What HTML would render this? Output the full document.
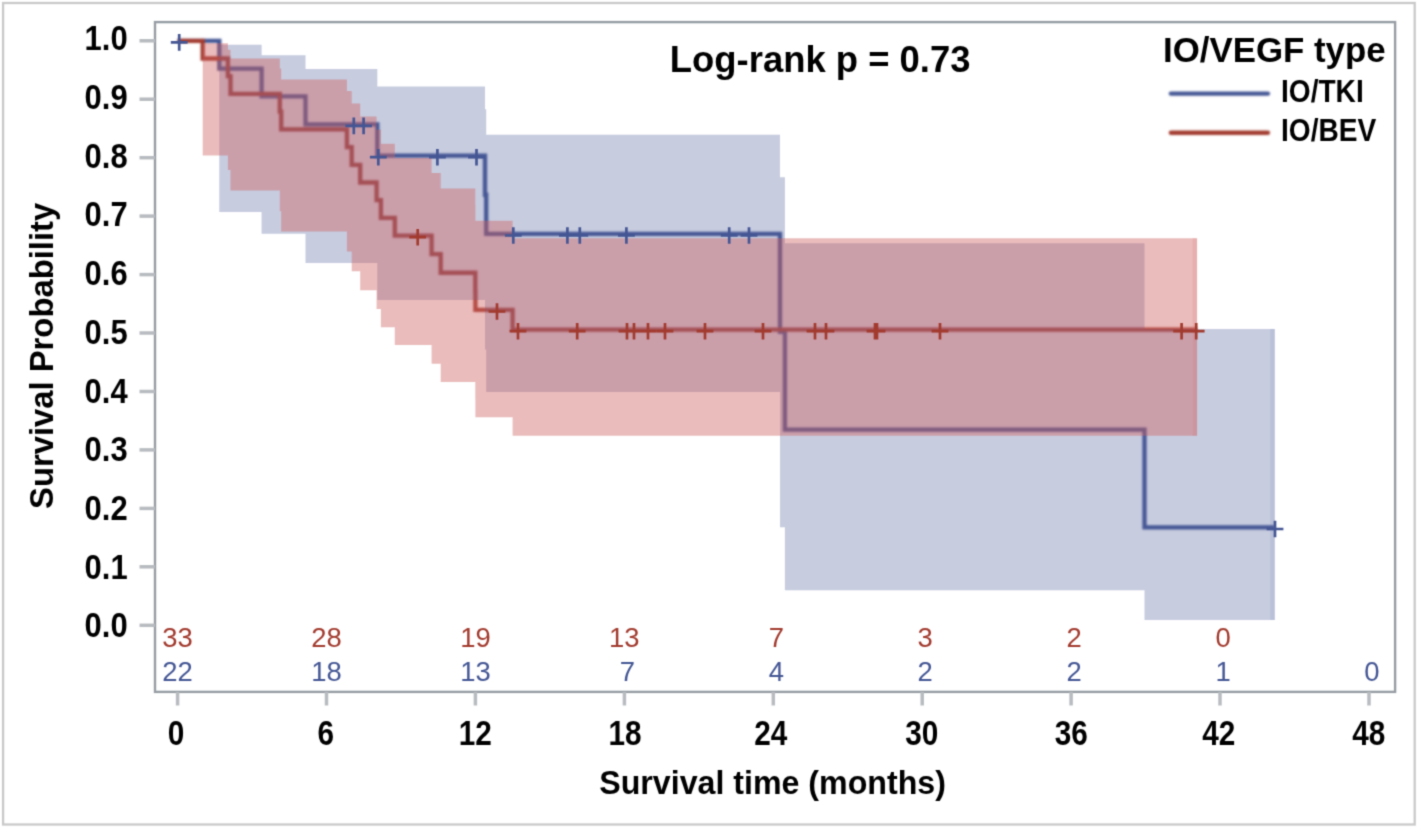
<!DOCTYPE html>
<html><head><meta charset="utf-8"><style>
html,body{margin:0;padding:0;background:#fff;}
svg{display:block;}
text{font-family:"Liberation Sans",sans-serif;}
</style></head><body>
<svg width="1418" height="828" viewBox="0 0 1418 828">
<defs><filter id="bl" filterUnits="userSpaceOnUse" x="0" y="0" width="1418" height="828" color-interpolation-filters="sRGB"><feConvolveMatrix order="3" kernelMatrix="1 4 1 4 16 4 1 4 1" divisor="36" edgeMode="duplicate"/></filter><filter id="bl2" filterUnits="userSpaceOnUse" x="0" y="0" width="1418" height="828" color-interpolation-filters="sRGB"><feConvolveMatrix order="5" kernelMatrix="18 82 135 82 18 82 368 607 368 82 135 607 1000 607 135 82 368 607 368 82 18 82 135 82 18" divisor="6168" edgeMode="none"/></filter></defs>
<rect x="0" y="0" width="1418" height="828" fill="#fff"/>
<g filter="url(#bl)">
<rect x="3.1" y="3" width="1411.6" height="821.5" fill="none" stroke="#c9c9c9" stroke-width="2.3"/>
<g filter="url(#bl2)">
<path d="M177.60,40.80 H219.30 V68.63 H261.60 V96.47 H305.50 V124.30 H377.30 V155.61 H485.00 V194.75 H486.20 V233.89 H780.00 V331.75 H784.90 V429.60 H1144.50 V527.45 H1274.80" stroke="#445694" stroke-width="4.3" fill="none"/>
<path d="M177.60,40.80 H202.70 V58.51 H227.90 V76.22 H230.50 V93.94 H279.80 V111.65 H281.20 V129.36 H346.90 V147.07 H351.70 V164.78 H360.20 V182.50 H376.60 V200.21 H380.90 V217.92 H394.80 V235.63 H431.60 V254.19 H440.70 V272.74 H475.30 V291.30 H475.40 V309.86 H512.60 V329.57 H1197.10" stroke="#A23A2E" stroke-width="4.3" fill="none"/>
</g>
<path d="M219.30,44.80 V44.80 H261.60 V55.24 H305.50 V69.12 H377.30 V86.59 H485.00 V109.15 H486.20 V134.65 H780.00 V177.13 H784.90 V243.15 H1144.50 V328.91 H1274.80 V620.01 H1144.50 V590.37 H784.90 V527.31 H780.00 V392.07 H486.20 V349.61 H485.00 V300.06 H377.30 V263.08 H305.50 V233.66 H261.60 V211.94 H219.30 Z" fill="#445694" fill-opacity="0.3"/>
<path d="M202.70,43.33 V43.33 H227.90 V49.87 H230.50 V58.49 H279.80 V68.45 H281.20 V79.40 H346.90 V91.12 H351.70 V103.49 H360.20 V116.41 H376.60 V129.82 H380.90 V143.67 H394.80 V157.93 H431.60 V173.06 H440.70 V188.60 H475.30 V204.53 H475.40 V220.83 H512.60 V238.24 H1197.10 V435.77 H512.60 V417.29 H475.40 V399.89 H475.30 V382.06 H440.70 V363.80 H431.60 V345.07 H394.80 V327.17 H380.90 V308.90 H376.60 V290.22 H360.20 V271.13 H351.70 V251.59 H346.90 V231.59 H281.20 V211.14 H279.80 V190.40 H230.50 V170.11 H227.90 V155.51 H202.70 Z" fill="rgb(207,96,96)" fill-opacity="0.42"/>
<rect x="1270.30" y="328.91" width="4.5" height="291.10" fill="#445694" fill-opacity="0.105"/>
<rect x="1192.60" y="238.24" width="4.5" height="197.54" fill="rgb(207,96,96)" fill-opacity="0.147"/>
<path d="M170.8,42.4h16.8M179.2,34.1v16.6M345.4,125.9h16.8M353.8,117.6v16.6M355.2,125.9h16.8M363.6,117.6v16.6M369.9,157.2h16.8M378.3,148.9v16.6M429.0,157.2h16.8M437.4,148.9v16.6M468.1,157.2h16.8M476.5,148.9v16.6M504.9,235.5h16.8M513.3,227.2v16.6M559.0,235.5h16.8M567.4,227.2v16.6M571.4,235.5h16.8M579.8,227.2v16.6M618.0,235.5h16.8M626.4,227.2v16.6M720.8,235.5h16.8M729.2,227.2v16.6M740.6,235.5h16.8M749.0,227.2v16.6M1266.6,529.0h16.8M1275.0,520.7v16.6" stroke="#445694" stroke-width="2.7" fill="none"/>
<path d="M409.3,237.2h16.8M417.7,228.9v16.6M488.6,311.5h16.8M497.0,303.2v16.6M509.6,331.2h16.8M518.0,322.9v16.6M568.8,331.2h16.8M577.2,322.9v16.6M618.6,331.2h16.8M627.0,322.9v16.6M625.6,331.2h16.8M634.0,322.9v16.6M639.6,331.2h16.8M648.0,322.9v16.6M656.6,331.2h16.8M665.0,322.9v16.6M696.6,331.2h16.8M705.0,322.9v16.6M754.6,331.2h16.8M763.0,322.9v16.6M806.6,331.2h16.8M815.0,322.9v16.6M817.6,331.2h16.8M826.0,322.9v16.6M866.6,331.2h16.8M875.0,322.9v16.6M868.6,331.2h16.8M877.0,322.9v16.6M931.6,331.2h16.8M940.0,322.9v16.6M1173.2,331.2h16.8M1181.6,322.9v16.6M1187.8,331.2h16.8M1196.2,322.9v16.6" stroke="#A23A2E" stroke-width="2.7" fill="none"/>
<rect x="155" y="22.1" width="1240.1" height="669.8" fill="none" stroke="#979ea4" stroke-width="2.4"/>
<line x1="139.5" y1="625.3" x2="155" y2="625.3" stroke="#b8bcc0" stroke-width="3.5"/><text transform="translate(127.60,637.40) scale(0.8840,1)" font-size="35" font-weight="bold" text-anchor="end" fill="#000">0.0</text><line x1="139.5" y1="566.8" x2="155" y2="566.8" stroke="#b8bcc0" stroke-width="3.5"/><text transform="translate(127.60,578.68) scale(0.8840,1)" font-size="35" font-weight="bold" text-anchor="end" fill="#000">0.1</text><line x1="139.5" y1="508.4" x2="155" y2="508.4" stroke="#b8bcc0" stroke-width="3.5"/><text transform="translate(127.60,519.96) scale(0.8840,1)" font-size="35" font-weight="bold" text-anchor="end" fill="#000">0.2</text><line x1="139.5" y1="449.9" x2="155" y2="449.9" stroke="#b8bcc0" stroke-width="3.5"/><text transform="translate(127.60,461.24) scale(0.8840,1)" font-size="35" font-weight="bold" text-anchor="end" fill="#000">0.3</text><line x1="139.5" y1="391.5" x2="155" y2="391.5" stroke="#b8bcc0" stroke-width="3.5"/><text transform="translate(127.60,402.52) scale(0.8840,1)" font-size="35" font-weight="bold" text-anchor="end" fill="#000">0.4</text><line x1="139.5" y1="333.0" x2="155" y2="333.0" stroke="#b8bcc0" stroke-width="3.5"/><text transform="translate(127.60,343.80) scale(0.8840,1)" font-size="35" font-weight="bold" text-anchor="end" fill="#000">0.5</text><line x1="139.5" y1="274.6" x2="155" y2="274.6" stroke="#b8bcc0" stroke-width="3.5"/><text transform="translate(127.60,285.08) scale(0.8840,1)" font-size="35" font-weight="bold" text-anchor="end" fill="#000">0.6</text><line x1="139.5" y1="216.1" x2="155" y2="216.1" stroke="#b8bcc0" stroke-width="3.5"/><text transform="translate(127.60,226.36) scale(0.8840,1)" font-size="35" font-weight="bold" text-anchor="end" fill="#000">0.7</text><line x1="139.5" y1="157.7" x2="155" y2="157.7" stroke="#b8bcc0" stroke-width="3.5"/><text transform="translate(127.60,167.64) scale(0.8840,1)" font-size="35" font-weight="bold" text-anchor="end" fill="#000">0.8</text><line x1="139.5" y1="99.2" x2="155" y2="99.2" stroke="#b8bcc0" stroke-width="3.5"/><text transform="translate(127.60,108.92) scale(0.8840,1)" font-size="35" font-weight="bold" text-anchor="end" fill="#000">0.9</text><line x1="139.5" y1="40.8" x2="155" y2="40.8" stroke="#b8bcc0" stroke-width="3.5"/><text transform="translate(127.60,50.20) scale(0.8840,1)" font-size="35" font-weight="bold" text-anchor="end" fill="#000">1.0</text>
<line x1="177.6" y1="692" x2="177.6" y2="705.5" stroke="#b8bcc0" stroke-width="3.5"/><text transform="translate(176.10,745.00) scale(0.8500,1)" font-size="35" font-weight="bold" text-anchor="middle" fill="#000">0</text><line x1="326.5" y1="692" x2="326.5" y2="705.5" stroke="#b8bcc0" stroke-width="3.5"/><text transform="translate(325.72,745.00) scale(0.8500,1)" font-size="35" font-weight="bold" text-anchor="middle" fill="#000">6</text><line x1="475.4" y1="692" x2="475.4" y2="705.5" stroke="#b8bcc0" stroke-width="3.5"/><text transform="translate(475.19,745.00) scale(0.8500,1)" font-size="35" font-weight="bold" text-anchor="middle" fill="#000">12</text><line x1="624.4" y1="692" x2="624.4" y2="705.5" stroke="#b8bcc0" stroke-width="3.5"/><text transform="translate(624.96,745.00) scale(0.8500,1)" font-size="35" font-weight="bold" text-anchor="middle" fill="#000">18</text><line x1="773.3" y1="692" x2="773.3" y2="705.5" stroke="#b8bcc0" stroke-width="3.5"/><text transform="translate(770.78,745.00) scale(0.8500,1)" font-size="35" font-weight="bold" text-anchor="middle" fill="#000">24</text><line x1="922.2" y1="692" x2="922.2" y2="705.5" stroke="#b8bcc0" stroke-width="3.5"/><text transform="translate(921.70,745.00) scale(0.8500,1)" font-size="35" font-weight="bold" text-anchor="middle" fill="#000">30</text><line x1="1071.1" y1="692" x2="1071.1" y2="705.5" stroke="#b8bcc0" stroke-width="3.5"/><text transform="translate(1071.32,745.00) scale(0.8500,1)" font-size="35" font-weight="bold" text-anchor="middle" fill="#000">36</text><line x1="1220.0" y1="692" x2="1220.0" y2="705.5" stroke="#b8bcc0" stroke-width="3.5"/><text transform="translate(1218.74,745.00) scale(0.8500,1)" font-size="35" font-weight="bold" text-anchor="middle" fill="#000">42</text><line x1="1369.0" y1="692" x2="1369.0" y2="705.5" stroke="#b8bcc0" stroke-width="3.5"/><text transform="translate(1368.76,745.00) scale(0.8500,1)" font-size="35" font-weight="bold" text-anchor="middle" fill="#000">48</text>
<text transform="translate(177.60,646.80) scale(0.9800,1)" font-size="28" font-weight="normal" text-anchor="middle" fill="#A23A2E">33</text><text transform="translate(326.52,646.80) scale(0.9800,1)" font-size="28" font-weight="normal" text-anchor="middle" fill="#A23A2E">28</text><text transform="translate(475.44,646.80) scale(0.9800,1)" font-size="28" font-weight="normal" text-anchor="middle" fill="#A23A2E">19</text><text transform="translate(624.36,646.80) scale(0.9800,1)" font-size="28" font-weight="normal" text-anchor="middle" fill="#A23A2E">13</text><text transform="translate(776.28,646.80) scale(0.9800,1)" font-size="28" font-weight="normal" text-anchor="middle" fill="#A23A2E">7</text><text transform="translate(925.20,646.80) scale(0.9800,1)" font-size="28" font-weight="normal" text-anchor="middle" fill="#A23A2E">3</text><text transform="translate(1074.12,646.80) scale(0.9800,1)" font-size="28" font-weight="normal" text-anchor="middle" fill="#A23A2E">2</text><text transform="translate(1223.04,646.80) scale(0.9800,1)" font-size="28" font-weight="normal" text-anchor="middle" fill="#A23A2E">0</text><text transform="translate(177.60,681.20) scale(0.9800,1)" font-size="28" font-weight="normal" text-anchor="middle" fill="#445694">22</text><text transform="translate(326.52,681.20) scale(0.9800,1)" font-size="28" font-weight="normal" text-anchor="middle" fill="#445694">18</text><text transform="translate(475.44,681.20) scale(0.9800,1)" font-size="28" font-weight="normal" text-anchor="middle" fill="#445694">13</text><text transform="translate(627.36,681.20) scale(0.9800,1)" font-size="28" font-weight="normal" text-anchor="middle" fill="#445694">7</text><text transform="translate(776.28,681.20) scale(0.9800,1)" font-size="28" font-weight="normal" text-anchor="middle" fill="#445694">4</text><text transform="translate(925.20,681.20) scale(0.9800,1)" font-size="28" font-weight="normal" text-anchor="middle" fill="#445694">2</text><text transform="translate(1074.12,681.20) scale(0.9800,1)" font-size="28" font-weight="normal" text-anchor="middle" fill="#445694">2</text><text transform="translate(1223.04,681.20) scale(0.9800,1)" font-size="28" font-weight="normal" text-anchor="middle" fill="#445694">1</text><text transform="translate(1371.96,681.20) scale(0.9800,1)" font-size="28" font-weight="normal" text-anchor="middle" fill="#445694">0</text>
<text transform="translate(669.80,71.90) scale(0.9850,1)" font-size="37" font-weight="bold" text-anchor="start" fill="#000">Log-rank p = 0.73</text>
<text transform="translate(1163.00,62.20) scale(1.0100,1)" font-size="34.5" font-weight="bold" text-anchor="start" fill="#000">IO/VEGF type</text>
<line x1="1170.9" y1="93.6" x2="1267.9" y2="93.6" stroke="#445694" stroke-width="4.4" stroke-linecap="round" filter="url(#bl2)"/>
<line x1="1170.9" y1="132.8" x2="1267.9" y2="132.8" stroke="#A23A2E" stroke-width="4.4" stroke-linecap="round" filter="url(#bl2)"/>
<text transform="translate(1281.00,101.90) scale(0.8950,1)" font-size="31.4" font-weight="bold" text-anchor="start" fill="#000">IO/TKI</text>
<text transform="translate(1281.00,141.10) scale(0.8950,1)" font-size="31.4" font-weight="bold" text-anchor="start" fill="#000">IO/BEV</text>
<text transform="translate(599.20,793.50) scale(0.9900,1)" font-size="32.5" font-weight="bold" text-anchor="start" fill="#000">Survival time (months)</text>
<text transform="translate(53,509) rotate(-90)" font-size="32.8" font-weight="bold">Survival Probability</text>
</g>
</svg>
</body></html>
